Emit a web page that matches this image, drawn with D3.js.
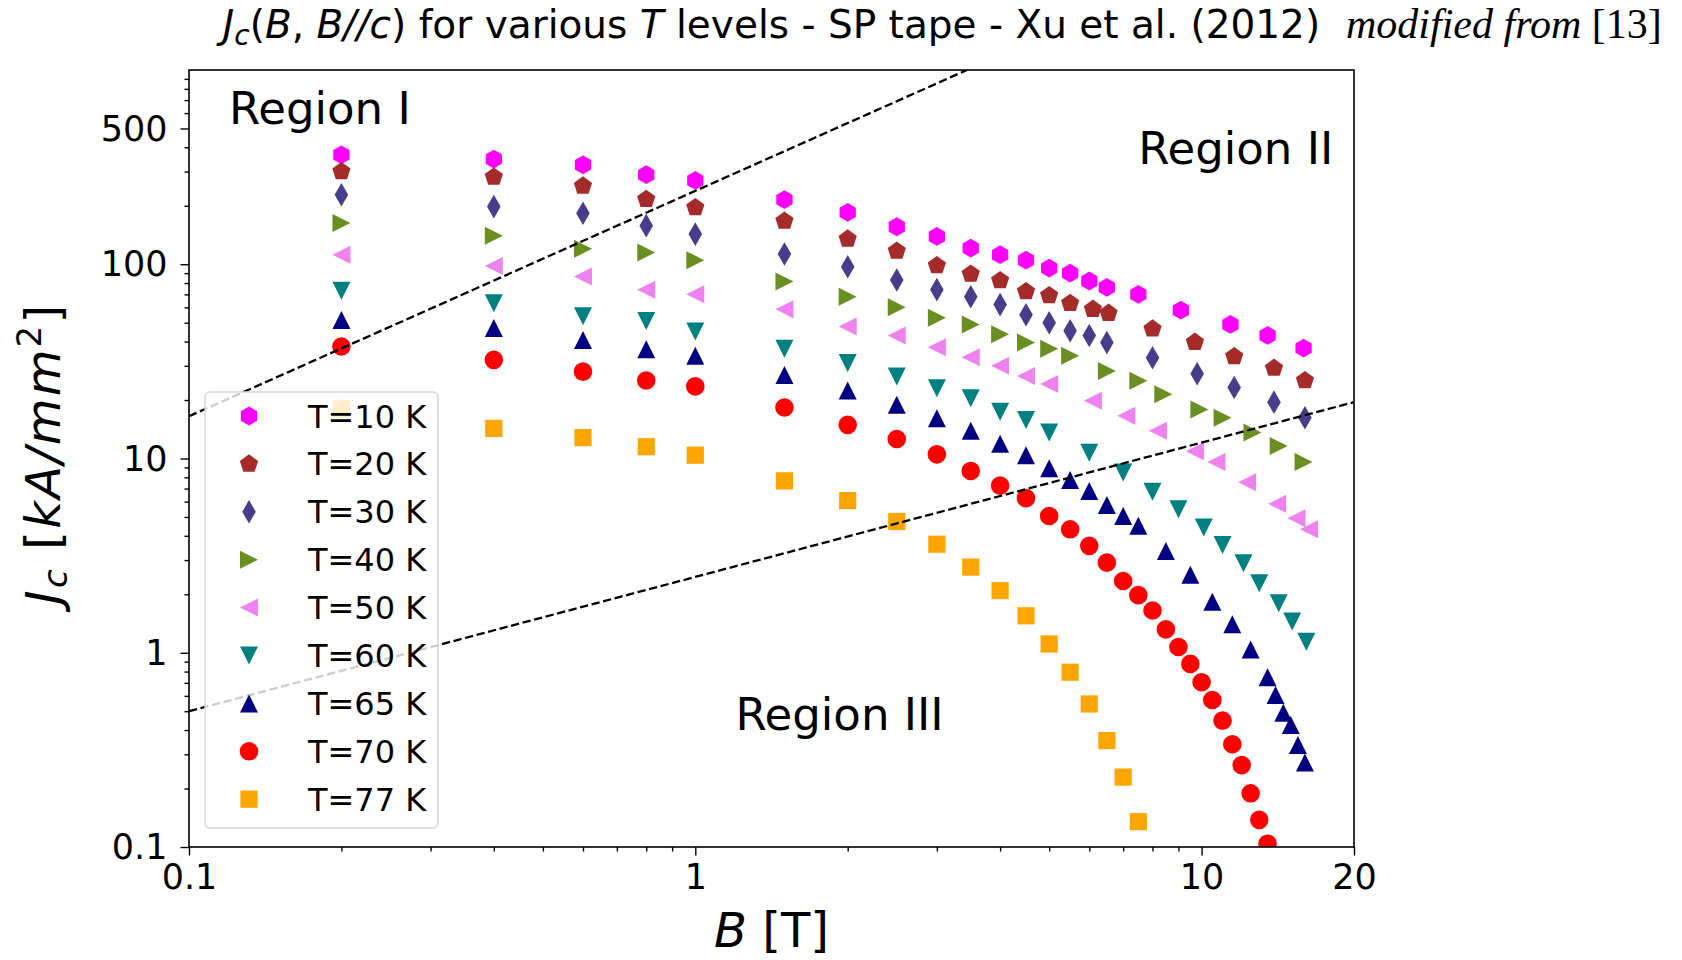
<html>
<head>
<meta charset="UTF-8">
<title>Jc(B) SP tape</title>
<script src="https://cdn.jsdelivr.net/npm/d3@7"></script>
<style>
  body { margin:0; background:white; }
  text { font-family: "DejaVu Sans", sans-serif; }
</style>
</head>
<body>
<svg id="chart" width="1682" height="960"></svg>
<script>
// series: B in T, Jc in kA/mm2
var labels = ["T=10 K","T=20 K","T=30 K","T=40 K","T=50 K","T=60 K","T=65 K","T=70 K","T=77 K"];
var colors = ["#ff00ff","#a52a2a","#483d8b","#6b8e23","#ee82ee","#008080","#000080","#ff0000","#ffa500"];
var shapes = ["hexagon","pentagon","thindiamond","right","left","down","up","circle","square"];

var b10 = [0.2,0.4,0.6,0.8,1,1.5,2,2.5,3,3.5,4,4.5,5,5.5,6,6.5,7.5,9.1,11.4,13.5,15.9];
var j10 = [366,348,325,289,270,215,185,156,139,121,112,105,95.5,90,82,76,70,58,49,43,37];
var b20 = [0.2,0.4,0.6,0.8,1,1.5,2,2.5,3,3.5,4,4.5,5,5.5,6.1,6.55,8,9.7,11.6,13.9,16];
var j20 = [300,281,253,216,196,167,135,117,98.5,89,82.5,72.4,69,63,58.7,56,46.5,39.7,33.5,29.2,25.2];
var b30 = [0.2,0.4,0.6,0.8,1,1.5,2,2.5,3,3.5,4,4.5,5,5.5,6,6.5,8,9.8,11.6,13.9,16];
var j30 = [228,198,183,158,143,113,97,83,74,68,62,55,50,45.5,43,39.5,33,27.3,23.2,19.5,16.2];
var b40 = [0.2,0.4,0.6,0.8,1,1.5,2,2.5,3,3.5,4,4.5,5,5.5,6.5,7.5,8.4,9.9,11,12.6,14.2,15.9];
var j40 = [163,140,120,115,105,81.5,68,60,53,49,43.6,39.5,36.7,33.8,28.2,25.1,21.4,17.9,16.2,13.6,11.6,9.6];
var b50 = [0.2,0.4,0.6,0.8,1,1.5,2,2.5,3,3.5,4,4.5,5,6.1,7.1,8.2,9.7,10.7,12.3,14.1,15.4,16.3];
var j50 = [112,98,86.5,74,70,58.7,47.8,43,37.4,33.2,30,26.6,24.2,19.8,16.6,13.9,10.9,9.6,7.55,5.84,4.93,4.32];
var b60 = [0.2,0.4,0.6,0.8,1,1.5,2,2.5,3,3.5,4,4.5,5,6,7,8,9,10.1,11,12.1,13,14.2,15.1,16.1];
var j60 = [73,63,54,51,45,36.7,31,26.4,23,20.4,17.4,15.8,13.6,10.7,8.46,6.75,5.48,4.41,3.59,2.89,2.28,1.8,1.45,1.14];
var b65 = [0.2,0.4,0.6,0.8,1,1.5,2,2.5,3,3.5,4,4.5,5,5.5,6,6.5,7,7.5,8.5,9.5,10.5,11.5,12.5,13.5,14,14.5,15,15.5,16];
var j65 = [51.7,46.9,40.8,36.5,33.8,26.9,22.4,18.9,16.1,13.9,11.9,10.4,8.9,7.76,6.81,5.77,5.06,4.5,3.34,2.52,1.83,1.4,1.04,0.748,0.606,0.491,0.425,0.335,0.272];
var b70 = [0.2,0.4,0.6,0.8,1,1.5,2,2.5,3,3.5,4,4.5,5,5.5,6,6.5,7,7.5,8,8.5,9,9.5,10,10.5,11,11.5,12,12.5,13,13.5];
var j70 = [37.7,32.2,28,25.2,23.5,18.3,14.9,12.6,10.5,8.63,7.25,6.25,5.06,4.32,3.55,2.91,2.34,1.98,1.65,1.32,1.07,0.876,0.705,0.571,0.447,0.338,0.264,0.189,0.138,0.104];
var b77 = [0.2,0.4,0.6,0.8,1,1.5,2,2.5,3,3.5,4,4.5,5,5.5,6,6.5,7,7.5];
var j77 = [18,14.3,12.8,11.5,10.4,7.67,6.07,4.74,3.62,2.76,2.09,1.55,1.11,0.794,0.545,0.353,0.229,0.135];

var allB = [b10,b20,b30,b40,b50,b60,b65,b70,b77];
var allJ = [j10,j20,j30,j40,j50,j60,j65,j70,j77];

// dashed boundaries between the regions
var upperLineB = [0.1, 3.44];
var upperLineJ = [16.5, 1000];
var lowerLineB = [0.1, 20];
var lowerLineJ = [0.5, 19.5];

var regionText = ["Region I","Region II","Region III"];
var regionB = [0.12, 7.5, 1.2];
var regionJ = [530, 329, 0.4];

var xTicks = [0.1, 1, 10, 20];
var xTickLabels = ["0.1","1","10","20"];
var xMinor = [0.2,0.3,0.4,0.5,0.6,0.7,0.8,0.9,2,3,4,5,6,7,8,9];
var yTicks = [0.1, 1, 10, 100, 500];
var yTickLabels = ["0.1","1","10","100","500"];
var yMinor = [0.2,0.3,0.4,0.5,0.6,0.7,0.8,0.9,2,3,4,5,6,7,8,9,20,30,40,50,60,70,80,90,200,300,400,600,700,800,900];

var svg = d3.select("#chart");
var margin = { top: 70, right: 328, bottom: 113, left: 189 };
var width = 1682, height = 960;
var x = d3.scaleLog().domain([0.1, 20]).range([margin.left, width - margin.right]);
var y = d3.scaleLog().domain([0.1, 1000]).range([height - margin.bottom, margin.top]);

function marker(kind) {
  var p;
  if (kind == "circle") { var r = 9.3; return "M" + r + ",0A" + r + "," + r + " 0 1,1 " + (-r) + ",0A" + r + "," + r + " 0 1,1 " + r + ",0Z"; }
  if (kind == "square") { var s = 8.6; p = [[-s,-s],[s,-s],[s,s],[-s,s]]; }
  if (kind == "hexagon") { p = d3.range(6).map(k => [9.4*Math.cos(Math.PI/2 + k*Math.PI/3), -9.4*Math.sin(Math.PI/2 + k*Math.PI/3)]); }
  if (kind == "pentagon") { p = d3.range(5).map(k => [9.6*Math.cos(Math.PI/2 + k*2*Math.PI/5), -9.6*Math.sin(Math.PI/2 + k*2*Math.PI/5)]); }
  if (kind == "thindiamond") { p = [[0,-11.8],[6.8,0],[0,11.8],[-6.8,0]]; }
  if (kind == "up") { p = [[0,-9],[9,9],[-9,9]]; }
  if (kind == "down") { p = [[0,9],[9,-9],[-9,-9]]; }
  if (kind == "right") { p = [[9,0],[-9,-9],[-9,9]]; }
  if (kind == "left") { p = [[-9,0],[9,-9],[9,9]]; }
  return "M" + p.map(d => d[0].toFixed(2) + "," + d[1].toFixed(2)).join("L") + "Z";
}

svg.append("defs").append("clipPath").attr("id","plotclip")
  .append("rect").attr("x", x(0.1)).attr("y", y(1000))
  .attr("width", x(20) - x(0.1)).attr("height", y(0.1) - y(1000));

var plot = svg.append("g").attr("clip-path","url(#plotclip)");

allB.forEach(function(bs, s) {
  bs.forEach(function(b, i) {
    plot.append("path")
      .attr("d", marker(shapes[s]))
      .attr("transform","translate(" + x(b) + "," + y(allJ[s][i]) + ")")
      .style("fill", colors[s]);
  });
});

var line = d3.line().x(d => x(d[0])).y(d => y(d[1]));
[[upperLineB, upperLineJ],[lowerLineB, lowerLineJ]].forEach(function(g) {
  plot.append("path")
    .attr("d", line(d3.zip(g[0], g[1])))
    .style("fill","none").style("stroke","black")
    .style("stroke-width",2.3).style("stroke-dasharray","8.3,3.6");
});

regionText.forEach(function(t, i) {
  svg.append("text").attr("x", x(regionB[i])).attr("y", y(regionJ[i]))
    .style("font-size","45px").style("fill","black").text(t);
});

// axes
var bottom = height - margin.bottom;
var xMin = svg.append("g").attr("transform","translate(0," + bottom + ")")
  .call(d3.axisBottom(x).tickValues(xMinor).tickSize(4.5).tickFormat(""));
var xMaj = svg.append("g").attr("transform","translate(0," + bottom + ")")
  .call(d3.axisBottom(x).tickValues(xTicks).tickSize(8.5).tickPadding(9).tickFormat((d, i) => xTickLabels[i]));
var yMin = svg.append("g").attr("transform","translate(" + margin.left + ",0)")
  .call(d3.axisLeft(y).tickValues(yMinor).tickSize(4.5).tickFormat(""));
var yMaj = svg.append("g").attr("transform","translate(" + margin.left + ",0)")
  .call(d3.axisLeft(y).tickValues(yTicks).tickSize(8.5).tickPadding(13).tickFormat((d, i) => yTickLabels[i]));
[xMin, xMaj, yMin, yMaj].forEach(function(a) {
  a.select(".domain").remove();
  a.selectAll(".tick line").style("stroke","black").style("stroke-width",1.4);
  a.selectAll("text").style("font-family","'DejaVu Sans'").style("font-size","35px").style("fill","black");
});
yMaj.selectAll("text").attr("dy","0.33em");

svg.append("rect").attr("x", x(0.1)).attr("y", y(1000))
  .attr("width", x(20) - x(0.1)).attr("height", y(0.1) - y(1000))
  .style("fill","none").style("stroke","black").style("stroke-width",1.6);

// legend
var leg = svg.append("g");
leg.append("rect").attr("x",205).attr("y",392).attr("width",233).attr("height",436)
  .attr("rx",5).style("fill","white").style("fill-opacity",0.8)
  .style("stroke","#d6d6d6").style("stroke-width",1.5);
labels.forEach(function(l, i) {
  var ly = 416 + i * 47.9;
  leg.append("path").attr("d", marker(shapes[i]))
    .attr("transform","translate(249," + ly + ")").style("fill", colors[i]);
  leg.append("text").attr("x",308).attr("y",ly).attr("dy","0.36em")
    .style("font-size","32px").style("fill","black").text(l);
});

// axis labels
var xl = svg.append("text").attr("x", (x(0.1) + x(20)) / 2).attr("y", 947)
  .attr("text-anchor","middle").style("font-size","48px");
xl.append("tspan").style("font-style","italic").text("B");
xl.append("tspan").text(" [T]");

var yl = svg.append("text").attr("transform","translate(60," + ((y(0.1) + y(1000)) / 2 - 5) + ") rotate(-90)")
  .attr("text-anchor","middle").style("font-size","48px").style("letter-spacing","2.2px");
yl.append("tspan").style("font-style","italic").text("J");
yl.append("tspan").style("font-style","italic").style("font-size","34px").attr("dy",7).text("c");
yl.append("tspan").attr("dy",-7).text(" [");
yl.append("tspan").style("font-style","italic").text("kA/mm");
yl.append("tspan").style("font-size","34px").attr("dy",-19).text("2");
yl.append("tspan").attr("dy",19).text("]");

// title
var ti = svg.append("text").attr("x", (x(0.1) + x(20)) / 2).attr("y", 38)
  .attr("text-anchor","middle").style("font-size","39px");
ti.append("tspan").style("font-style","italic").text("J");
ti.append("tspan").style("font-style","italic").style("font-size","28px").attr("dy",7).text("c");
ti.append("tspan").attr("dy",-7).text("(");
ti.append("tspan").style("font-style","italic").text("B");
ti.append("tspan").text(", ");
ti.append("tspan").style("font-style","italic").text("B//c");
ti.append("tspan").text(") for various ");
ti.append("tspan").style("font-style","italic").text("T");
ti.append("tspan").text(" levels - SP tape - Xu et al. (2012)");

var mf = svg.append("text").attr("x",1346).attr("y",38)
  .style("font-family","'Liberation Serif', serif").style("font-size","42px");
mf.append("tspan").style("font-style","italic").style("font-family","'Liberation Serif', serif").text("modified from ");
mf.append("tspan").style("font-family","'Liberation Serif', serif").text("[13]");
</script>
</body>
</html>
